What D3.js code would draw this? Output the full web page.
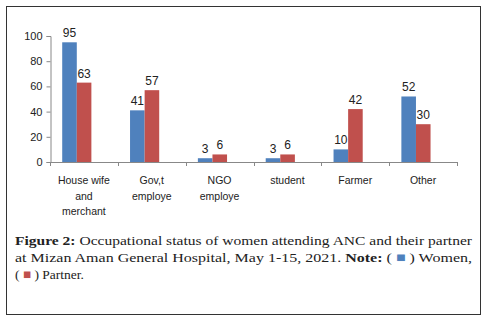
<!DOCTYPE html>
<html lang="en">
<head>
<meta charset="utf-8">
<title>Occupational status</title>
<script src="https://d3js.org/d3.v7.min.js"></script>
<style type="text/css">
body { margin: 0; background: #fff; }
text { font-family: "Liberation Sans", Arial, sans-serif; }
.cap { font-family: "Liberation Serif", "DejaVu Serif", serif; font-size: 13.5px; fill: #222; }
</style>
</head>
<body>
<div id="chart"></div>
<script type="text/javascript">
// data
var categories = [["House wife", "and", "merchant"], ["Gov,t", "employe"], ["NGO", "employe"], ["student"], ["Farmer"], ["Other"]];
var women = [95, 41, 3, 3, 10, 52];
var partner = [63, 57, 6, 6, 42, 30];
var yTicks = [0, 20, 40, 60, 80, 100];

var w = 489, h = 325;
var blue = "#4f81bd", red = "#c0504d";

var svg = d3.select("#chart").append("svg")
  .attr("width", w)
  .attr("height", h);

// frame
svg.append("rect")
  .attr("x", 6.5).attr("y", 6.5)
  .attr("width", 474).attr("height", 308)
  .attr("fill", "none").attr("stroke", "#333").attr("stroke-width", 1);

var xScale = d3.scaleBand()
  .domain(d3.range(categories.length))
  .range([50, 457]);

var yScale = d3.scaleLinear()
  .domain([0, 100])
  .range([162, 36]);

var bw = xScale.bandwidth();
var barW = bw * 0.215;
var off = bw * 0.18;

// y axis
var yAxis = svg.append("g")
  .attr("transform", "translate(50.5,0)")
  .call(d3.axisLeft(yScale).tickValues(yTicks).tickSize(4).tickPadding(4));
yAxis.select(".domain").attr("stroke", "#888");
yAxis.selectAll(".tick line").attr("stroke", "#888");
yAxis.selectAll(".tick text").attr("font-size", "11px").attr("fill", "#222");

// x axis line and boundary ticks
svg.append("line")
  .attr("x1", 50).attr("x2", 457)
  .attr("y1", yScale(0) + 0.5).attr("y2", yScale(0) + 0.5)
  .attr("stroke", "#888");
svg.selectAll("line.xt")
  .data(d3.range(categories.length + 1))
  .enter().append("line")
  .attr("class", "xt")
  .attr("x1", d => Math.round(50 + d * bw) + 0.5)
  .attr("x2", d => Math.round(50 + d * bw) + 0.5)
  .attr("y1", yScale(0))
  .attr("y2", yScale(0) + 4)
  .attr("stroke", "#888");

var series = [{vals: women, color: blue, i: 0}, {vals: partner, color: red, i: 1}];

series.forEach(function (s) {
  svg.selectAll("rect.b" + s.i)
    .data(s.vals)
    .enter().append("rect")
    .attr("class", "b" + s.i)
    .attr("x", (d, k) => xScale(k) + off + s.i * barW)
    .attr("y", d => yScale(d))
    .attr("width", barW)
    .attr("height", d => yScale(0) - yScale(d))
    .attr("fill", s.color);

  svg.selectAll("text.v" + s.i)
    .data(s.vals)
    .enter().append("text")
    .attr("class", "v" + s.i)
    .attr("x", (d, k) => xScale(k) + off + s.i * barW + barW / 2)
    .attr("y", d => yScale(d) - 5)
    .attr("text-anchor", "middle")
    .attr("font-size", "12px")
    .attr("fill", "#222")
    .text(d => d);
});

// category labels
categories.forEach(function (lines, k) {
  var t = svg.append("text")
    .attr("x", xScale(k) + bw / 2)
    .attr("y", 184)
    .attr("text-anchor", "middle")
    .attr("font-size", "10.5px")
    .attr("fill", "#222");
  lines.forEach(function (ln, j) {
    t.append("tspan")
      .attr("x", xScale(k) + bw / 2)
      .attr("dy", j == 0 ? 0 : 15.5)
      .text(ln);
  });
});

// caption
var c1 = svg.append("text").attr("class", "cap").attr("x", 15).attr("y", 245)
  .attr("textLength", 457).attr("lengthAdjust", "spacingAndGlyphs");
c1.append("tspan").attr("font-weight", "bold").text("Figure 2:");
c1.append("tspan").text(" Occupational status of women attending ANC and their partner");

var c2 = svg.append("text").attr("class", "cap").attr("x", 15).attr("y", 262)
  .attr("textLength", 457).attr("lengthAdjust", "spacingAndGlyphs");
c2.append("tspan").text("at Mizan Aman General Hospital, May 1-15, 2021. ");
c2.append("tspan").attr("font-weight", "bold").text("Note:");
c2.append("tspan").text(" ( ");
c2.append("tspan").attr("fill", blue).text("\u25A0");
c2.append("tspan").text(" ) Women,");

var c3 = svg.append("text").attr("class", "cap").attr("x", 15).attr("y", 279);
c3.append("tspan").text("( ");
c3.append("tspan").attr("fill", red).text("\u25A0");
c3.append("tspan").text(" ) Partner.");
</script>
</body>
</html>
